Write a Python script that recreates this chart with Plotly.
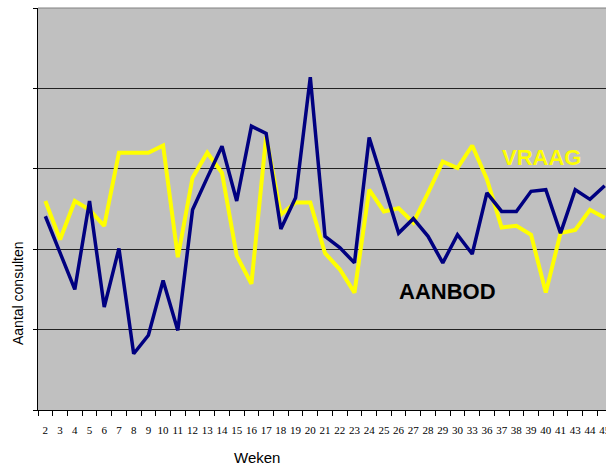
import plotly.graph_objects as go

weken = ["2", "3", "4", "5", "6", "7", "8", "9", "10", "11", "12", "13", "14", "15", "16",
         "17", "18", "19", "20", "21", "22", "23", "24", "25", "26", "27", "28", "29", "30",
         "33", "36", "37", "38", "39", "40", "41", "43", "44", "45"]

vraag = [2.60, 2.12, 2.60, 2.49, 2.29, 3.20, 3.20, 3.20, 3.29, 1.90,
         2.89, 3.20, 2.95, 1.92, 1.57, 3.40, 2.43, 2.58, 2.58, 1.95,
         1.75, 1.46, 2.74, 2.47, 2.51, 2.33, 2.70, 3.09, 3.01, 3.29,
         2.87, 2.27, 2.29, 2.18, 1.46, 2.20, 2.24, 2.49, 2.39]

aanbod = [2.41, 1.96, 1.50, 2.60, 1.28, 2.01, 0.70, 0.93, 1.61, 0.99,
          2.49, 2.89, 3.28, 2.60, 3.53, 3.44, 2.25, 2.64, 4.14, 2.16,
          2.02, 1.83, 3.39, 2.80, 2.20, 2.38, 2.16, 1.83, 2.18, 1.94,
          2.70, 2.47, 2.47, 2.72, 2.74, 2.20, 2.74, 2.62, 2.79]

fig = go.Figure()
fig.add_trace(go.Scatter(x=weken, y=vraag, mode="lines", name="VRAAG",
                         line=dict(color="#FFFF00", width=4)))
fig.add_trace(go.Scatter(x=weken, y=aanbod, mode="lines", name="AANBOD",
                         line=dict(color="#000080", width=3.5)))

fig.update_layout(
    width=606, height=467,
    margin=dict(l=38, r=0, t=8, b=57),
    paper_bgcolor="white",
    plot_bgcolor="#C0C0C0",
    showlegend=False,
    xaxis=dict(
        type="category",
        range=[-0.5, 38.09],
        tickson="boundaries",
        tickangle=0,
        automargin=False,
        ticks="outside", ticklen=5, tickcolor="black",
        ticklabelstandoff=10,
        showline=True, linecolor="black", linewidth=1,
        showgrid=False,
        tickfont=dict(family="Liberation Serif", size=11, color="black"),
        title=dict(text=""),
    ),
    yaxis=dict(
        range=[0, 5],
        tickvals=[0, 1, 2, 3, 4, 5],
        showticklabels=False,
        automargin=False,
        ticks="outside", ticklen=4, tickcolor="black",
        showline=True, linecolor="black", linewidth=1,
        showgrid=True, gridcolor="#222222", gridwidth=1,
        zeroline=False,
    ),
    annotations=[
        dict(text="VRAAG", x=541, y=157, xref="paper", yref="paper", showarrow=False,
             font=dict(family="Liberation Sans", size=22, color="#FFFF00", weight="bold")),
        dict(text="AANBOD", x=447, y=291, xref="paper", yref="paper", showarrow=False,
             font=dict(family="Liberation Sans", size=22, color="black", weight="bold")),
        dict(text="Aantal consulten", x=18, y=293, xref="paper", yref="paper", showarrow=False,
             textangle=-90, font=dict(family="Liberation Sans", size=14, color="black")),
        dict(text="Weken", x=257, y=458, xref="paper", yref="paper", showarrow=False,
             font=dict(family="Liberation Sans", size=15, color="black")),
    ],
)

# convert pixel-based annotation positions to paper coords
pw = 606 - 38 - 0
ph = 467 - 8 - 57
for a in fig.layout.annotations:
    px, py = a.x, a.y
    a.x = (px - 38) / pw
    a.y = (467 - 57 - py) / ph
    a.xanchor = "center"
    a.yanchor = "middle"

fig.add_shape(type="line", xref="paper", yref="paper", x0=0, x1=1, y0=1, y1=1,
              line=dict(color="#808080", width=1))

fig.write_html("out.html", config={"displayModeBar": False},
               post_script="document.body.style.margin='0';document.body.style.overflow='hidden';")
